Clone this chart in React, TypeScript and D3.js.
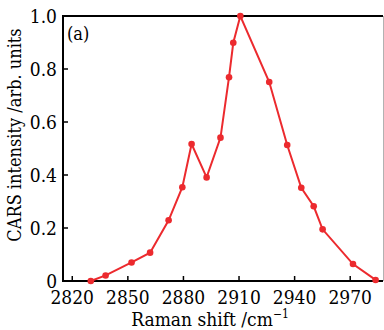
import React from "react";
import * as d3 from "d3";

const shifts = [2830, 2838, 2852, 2862, 2872, 2879.4, 2884.4, 2892.5, 2900, 2904.6, 2906.9, 2910.7, 2926.3, 2936, 2943.6, 2950.3, 2955.1, 2971.5, 2983.7];
const intensity = [0.0, 0.021, 0.07, 0.107, 0.229, 0.354, 0.517, 0.391, 0.541, 0.769, 0.899, 1.0, 0.751, 0.513, 0.352, 0.282, 0.195, 0.064, 0.004];
const xTicks = [2820, 2850, 2880, 2910, 2940, 2970];
const yTicks = [0, 0.2, 0.4, 0.6, 0.8, 1.0];

const W = 384, H = 330;
const L = 63, R = 383, T = 16, B = 281;
const FONT = "'DejaVu Serif Condensed', 'DejaVu Serif', serif";
const RED = "#ec2a2e";

export default function App() {
  const x = d3.scaleLinear().domain([2815, 2987.7]).range([L, R]);
  const y = d3.scaleLinear().domain([0, 1]).range([B, T]);
  const line = d3.line<number>().x((_, i) => x(shifts[i])).y((d) => y(d));
  const yFmt = (v: number) => (v === 0 ? "0" : v.toFixed(1));
  const tStyle = { fontStretch: "condensed" as const };
  return (
    <svg width={W} height={H} style={{ position: "absolute", left: 0, top: 0, background: "#fff" }}>
      <rect x={0} y={0} width={W} height={H} fill="#fff" />
      {xTicks.map((t) => (
        <g key={"x" + t}>
          <line x1={x(t)} x2={x(t)} y1={B} y2={B - 5} stroke="#000" strokeWidth={1.5} />
          <text x={x(t)} y={303.5} textAnchor="middle" fontFamily={FONT} style={tStyle} fontSize={19} fill="#000">{t}</text>
        </g>
      ))}
      {yTicks.map((t) => (
        <g key={"y" + t}>
          <line x1={L} x2={L + 5} y1={y(t)} y2={y(t)} stroke="#000" strokeWidth={1.5} />
          <text x={57} y={y(t) + 6.5} textAnchor="end" fontFamily={FONT} style={tStyle} fontSize={19} fill="#000">{yFmt(t)}</text>
        </g>
      ))}
      <path d={`M${R},${T} H${L} V${B} H${R}`} fill="none" stroke="#000" strokeWidth={2} />
      <line x1={R + 0.5} x2={R + 0.5} y1={T} y2={B} stroke="#000" strokeWidth={1} strokeOpacity={0.3} />
      <path d={line(intensity) || ""} fill="none" stroke={RED} strokeWidth={2} />
      {intensity.map((v, i) => (
        <circle key={i} cx={x(shifts[i])} cy={y(v)} r={3.3} fill={RED} />
      ))}
      <text x={67} y={40} fontFamily={FONT} style={tStyle} fontSize={18} fill="#000">(a)</text>
      <text x={210} y={326} textAnchor="middle" fontFamily={FONT} style={tStyle} fontSize={19} fill="#000">
        Raman shift /cm<tspan fontSize={12} dy={-8}>−1</tspan>
      </text>
      <text transform={`translate(21,135) rotate(-90)`} textAnchor="middle" fontFamily={FONT} style={tStyle} fontSize={18} fill="#000">
        CARS intensity /arb. units
      </text>
    </svg>
  );
}
